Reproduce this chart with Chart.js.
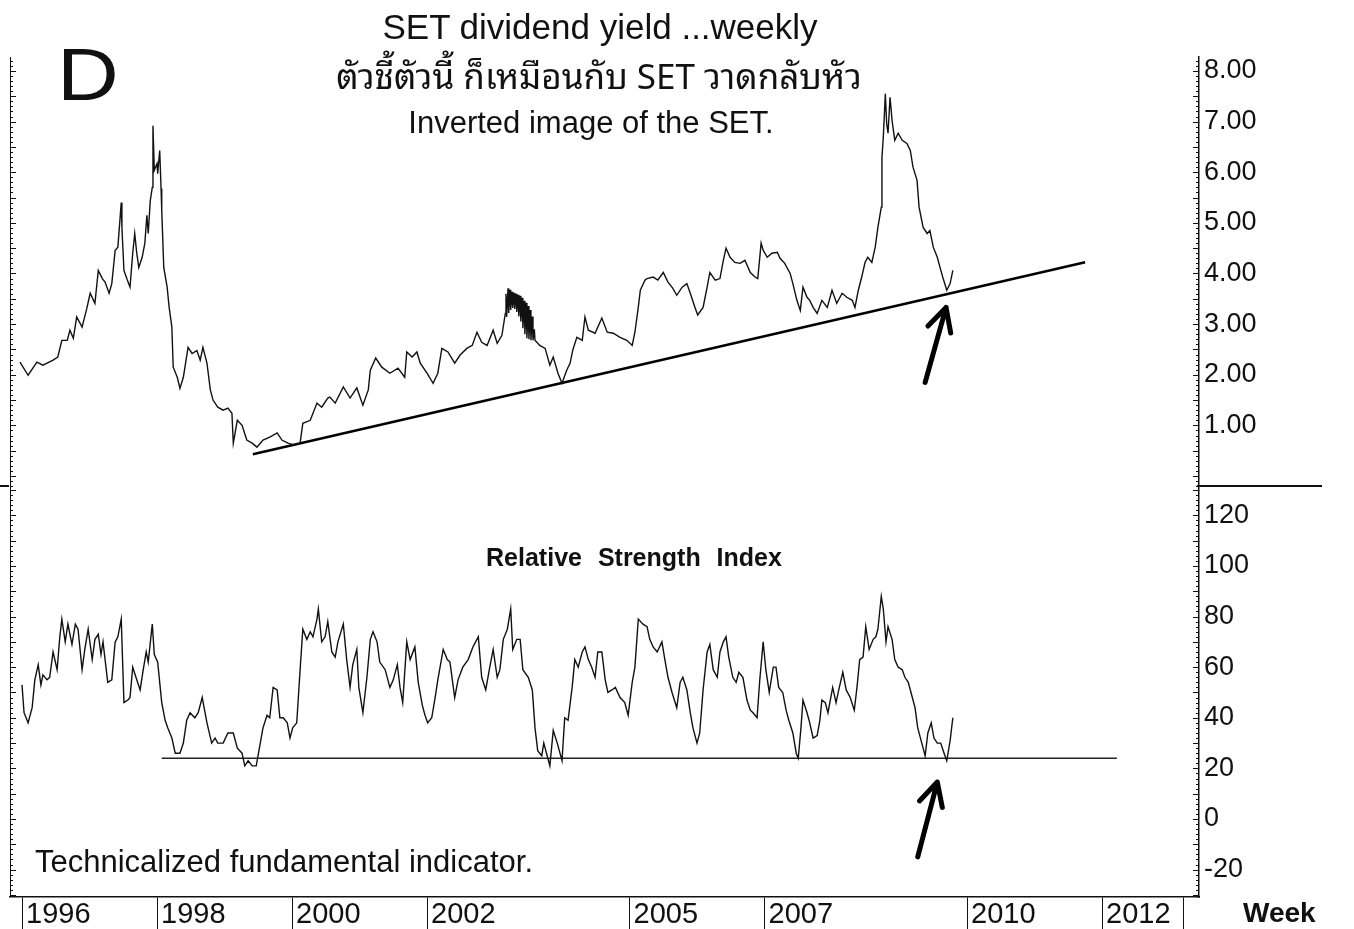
<!DOCTYPE html>
<html>
<head>
<meta charset="utf-8">
<title>SET dividend yield weekly</title>
<script src="https://cdn.jsdelivr.net/npm/chart.js@4.4.0/dist/chart.umd.min.js"></script>
<style>
  html, body { margin: 0; padding: 0; background: #fff; }
  #page { position: relative; width: 1354px; height: 929px; overflow: hidden; font-family: "Liberation Sans", Arial, sans-serif; color: #111; }
  canvas { position: absolute; left: 0; }
  #yieldCanvas { top: 0; }
  #rsiCanvas { top: 487px; }
  .txt { position: absolute; white-space: nowrap; line-height: 1; }
  .center { width: 800px; text-align: center; }
  .rule { position: absolute; background: #111; }
</style>
</head>
<body>
<div id="page">
  <canvas id="yieldCanvas" width="1354" height="487"></canvas>
  <canvas id="rsiCanvas" width="1354" height="442"></canvas>

  <div class="txt" style="left:57px; top:37px; font-size:75px; transform:scaleX(1.14); transform-origin:left top;">D</div>
  <div class="txt center" style="left:200px; top:9px; font-size:35px;">SET dividend yield ...weekly</div>
  <div class="txt center" style="left:199px; top:56px; font-size:35px; font-family:'Noto Sans Thai Looped','Noto Serif Thai','Garuda','Loma','Norasi','Kinnari','Waree','Noto Sans Thai','DejaVu Sans',sans-serif;">ตัวชี้ตัวนี้ ก็เหมือนกับ SET วาดกลับหัว</div>
  <div class="txt center" style="left:191px; top:107px; font-size:31px;">Inverted image of the SET.</div>
  <div class="txt center" style="left:234px; top:545px; font-size:25px; font-weight:bold; word-spacing:9px;">Relative Strength Index</div>
  <div class="txt" style="left:35px; top:846px; font-size:31px;">Technicalized fundamental indicator.</div>
  <div class="txt" style="left:1243px; top:899px; font-size:28px; font-weight:bold;">Week</div>

  <div class="rule" style="left:1197px; top:485px; width:125px; height:2px;"></div>
  <div class="rule" style="left:0px; top:485px; width:9px; height:2px;"></div>
</div>

<script>
// ---- data (decimal year, value) ----
const yieldSeries = [
  [1995.97,2.25],[1996.09,1.99],[1996.22,2.25],[1996.31,2.19],[1996.46,2.29],[1996.53,2.35],[1996.59,2.68],[1996.67,2.68],[1996.71,2.88],[1996.76,2.72],
  [1996.81,3.14],[1996.89,2.94],[1996.96,3.31],[1997.01,3.61],[1997.08,3.41],[1997.13,4.06],[1997.19,3.90],[1997.23,3.83],[1997.29,3.61],[1997.33,3.80],
  [1997.38,4.46],[1997.42,4.52],[1997.47,5.40],[1997.48,4.91],[1997.51,4.06],[1997.56,3.87],[1997.60,3.73],[1997.64,4.40],[1997.67,4.79],[1997.70,4.40],
  [1997.73,4.12],[1997.78,4.32],[1997.82,4.60],[1997.85,5.15],[1997.87,4.79],[1997.90,5.44],[1997.93,5.70],[1997.94,6.92],[1997.96,6.04],[1998.00,6.17],
  [1998.01,5.97],[1998.04,6.43],[1998.06,5.68],[1998.07,5.25],[1998.10,4.12],[1998.15,3.73],[1998.18,3.33],[1998.22,2.94],[1998.24,2.15],[1998.30,1.95],
  [1998.34,1.73],[1998.39,1.95],[1998.46,2.54],[1998.52,2.42],[1998.59,2.48],[1998.64,2.29],[1998.68,2.54],[1998.74,2.23],[1998.79,1.70],[1998.83,1.50],
  [1998.90,1.36],[1998.98,1.30],[1999.05,1.34],[1999.11,1.24],[1999.13,0.65],[1999.19,1.10],[1999.26,1.00],[1999.33,0.71],[1999.41,0.65],[1999.48,0.57],
  [1999.57,0.71],[1999.67,0.77],[1999.78,0.85],[1999.85,0.71],[1999.94,0.65],[2000.04,0.61],[2000.12,0.65],[2000.16,1.04],[2000.27,1.10],[2000.37,1.44],
  [2000.44,1.36],[2000.53,1.54],[2000.56,1.56],[2000.64,1.44],[2000.76,1.76],[2000.86,1.54],[2000.96,1.74],[2001.05,1.40],[2001.13,1.70],[2001.16,2.09],
  [2001.24,2.33],[2001.33,2.15],[2001.45,2.03],[2001.57,2.13],[2001.67,1.95],[2001.70,2.45],[2001.78,2.35],[2001.85,2.45],[2001.90,2.23],[2002.00,2.03],
  [2002.09,1.83],[2002.16,2.03],[2002.22,2.52],[2002.31,2.45],[2002.41,2.23],[2002.49,2.39],[2002.59,2.52],[2002.67,2.58],[2002.74,2.84],[2002.81,2.64],
  [2002.89,2.58],[2002.98,2.88],[2003.04,2.62],[2003.11,2.78],[2003.16,3.21],
  // 2003 swings are so wide week to week that the trace looks solid
  [2003.17,3.60],[2003.18,3.14],[2003.20,3.71],[2003.21,3.22],[2003.23,3.68],[2003.24,3.28],[2003.26,3.64],[2003.27,3.32],[2003.29,3.62],[2003.30,3.30],
  [2003.32,3.60],[2003.33,3.24],[2003.35,3.58],[2003.36,3.15],[2003.38,3.56],[2003.39,3.05],[2003.41,3.52],[2003.42,2.92],[2003.44,3.46],[2003.45,2.80],
  [2003.47,3.42],[2003.48,2.72],[2003.50,3.36],[2003.51,2.70],[2003.53,3.28],[2003.54,2.68],[2003.56,3.15],[2003.57,2.68],[2003.59,2.90],[2003.60,2.68],
  [2003.67,2.58],[2003.75,2.52],[2003.82,2.19],[2003.87,2.35],[2003.94,2.03],[2004.00,1.83],[2004.07,2.09],[2004.12,2.23],[2004.16,2.49],[2004.22,2.74],
  [2004.30,2.68],[2004.34,3.14],[2004.39,2.88],[2004.49,2.82],[2004.59,3.12],[2004.67,2.84],[2004.76,2.82],[2004.86,2.74],[2004.96,2.68],[2005.04,2.58],
  [2005.08,2.84],[2005.13,3.33],[2005.16,3.67],[2005.23,3.87],[2005.26,3.90],[2005.35,3.93],[2005.42,3.87],[2005.50,4.02],[2005.57,3.83],[2005.64,3.71],
  [2005.70,3.57],[2005.78,3.73],[2005.85,3.80],[2005.90,3.61],[2005.97,3.33],[2006.01,3.18],[2006.09,3.33],[2006.15,3.73],[2006.19,4.02],[2006.27,3.87],
  [2006.34,3.90],[2006.39,4.26],[2006.43,4.50],[2006.49,4.32],[2006.56,4.22],[2006.64,4.20],[2006.71,4.26],[2006.79,4.02],[2006.86,3.93],[2006.90,3.90],
  [2006.95,4.60],[2006.98,4.46],[2007.04,4.32],[2007.11,4.40],[2007.19,4.42],[2007.23,4.30],[2007.30,4.20],[2007.38,4.00],[2007.42,3.80],[2007.48,3.47],
  [2007.53,3.27],[2007.57,3.73],[2007.63,3.53],[2007.67,3.47],[2007.72,3.33],[2007.78,3.21],[2007.85,3.47],[2007.93,3.33],[2008.00,3.67],[2008.07,3.41],
  [2008.15,3.61],[2008.22,3.53],[2008.30,3.47],[2008.34,3.33],[2008.39,3.67],[2008.44,3.93],[2008.49,4.22],[2008.53,4.32],[2008.59,4.22],[2008.64,4.52],
  [2008.68,4.91],[2008.73,5.31],[2008.74,6.29],[2008.76,6.69],[2008.79,7.55],[2008.81,6.96],[2008.83,6.77],[2008.86,7.48],[2008.89,7.02],[2008.93,6.63],
  [2008.98,6.77],[2009.04,6.63],[2009.11,6.57],[2009.16,6.43],[2009.20,6.10],[2009.26,5.84],[2009.29,5.31],[2009.35,4.91],[2009.41,4.79],[2009.45,4.85],
  [2009.50,4.52],[2009.56,4.32],[2009.60,4.12],[2009.64,3.93],[2009.70,3.67],[2009.75,3.80],[2009.79,4.06]
];

const rsiSeries = [
  [1996.00,53],[1996.03,42],[1996.09,38],[1996.15,44],[1996.19,55],[1996.24,61],[1996.28,53],[1996.31,57],[1996.37,55],[1996.41,56],
  [1996.46,66],[1996.52,59],[1996.56,72],[1996.59,79],[1996.64,70],[1996.68,77],[1996.74,69],[1996.79,77],[1996.83,75],[1996.89,59],
  [1996.93,67],[1996.98,75],[1997.04,63],[1997.08,71],[1997.13,73],[1997.17,65],[1997.20,70],[1997.27,54],[1997.33,55],[1997.38,70],
  [1997.42,72],[1997.47,79],[1997.51,46],[1997.57,47],[1997.60,48],[1997.64,60],[1997.70,55],[1997.75,51],[1997.79,58],[1997.84,66],
  [1997.87,62],[1997.93,77],[1997.96,65],[1998.01,62],[1998.07,46],[1998.12,39],[1998.16,36],[1998.22,32],[1998.27,26],[1998.34,26],
  [1998.39,30],[1998.44,39],[1998.49,42],[1998.56,40],[1998.61,42],[1998.67,48],[1998.74,38],[1998.81,30],[1998.86,32],[1998.90,30],
  [1998.98,30],[1999.05,34],[1999.13,34],[1999.19,28],[1999.26,26],[1999.30,21],[1999.35,23],[1999.41,21],[1999.47,21],[1999.51,27],
  [1999.57,36],[1999.63,41],[1999.67,40],[1999.72,52],[1999.78,51],[1999.82,40],[1999.87,40],[1999.93,38],[1999.97,32],[2000.01,36],
  [2000.07,38],[2000.12,59],[2000.16,75],[2000.22,71],[2000.27,74],[2000.31,72],[2000.37,79],[2000.39,83],[2000.44,70],[2000.49,72],
  [2000.53,78],[2000.59,66],[2000.64,64],[2000.68,70],[2000.76,77],[2000.81,63],[2000.86,52],[2000.90,61],[2000.96,67],[2000.99,52],
  [2001.05,42],[2001.11,56],[2001.16,71],[2001.20,74],[2001.26,70],[2001.30,62],[2001.38,59],[2001.45,52],[2001.50,55],[2001.56,61],
  [2001.60,52],[2001.64,46],[2001.70,70],[2001.75,63],[2001.82,68],[2001.87,54],[2001.93,45],[2001.97,41],[2002.01,38],[2002.07,40],
  [2002.12,48],[2002.16,55],[2002.24,67],[2002.30,63],[2002.34,62],[2002.41,48],[2002.46,55],[2002.53,60],[2002.61,63],[2002.68,68],
  [2002.76,72],[2002.81,56],[2002.87,51],[2002.93,60],[2002.98,67],[2003.04,56],[2003.08,59],[2003.13,71],[2003.19,75],[2003.24,83],
  [2003.27,67],[2003.33,71],[2003.38,71],[2003.42,59],[2003.50,56],[2003.56,51],[2003.60,36],[2003.64,27],[2003.70,25],[2003.73,30],
  [2003.78,25],[2003.82,21],[2003.87,35],[2003.93,30],[2004.00,23],[2004.04,40],[2004.09,39],[2004.15,52],[2004.19,63],[2004.24,60],
  [2004.30,66],[2004.34,68],[2004.39,63],[2004.44,60],[2004.49,56],[2004.53,66],[2004.59,66],[2004.64,55],[2004.68,50],[2004.74,51],
  [2004.79,52],[2004.86,48],[2004.93,46],[2004.98,41],[2005.04,54],[2005.08,60],[2005.13,79],[2005.20,77],[2005.26,76],[2005.30,71],
  [2005.35,68],[2005.41,66],[2005.48,70],[2005.53,62],[2005.57,56],[2005.63,50],[2005.70,44],[2005.75,54],[2005.79,56],[2005.85,51],
  [2005.90,42],[2005.94,36],[2006.00,30],[2006.04,34],[2006.09,51],[2006.15,66],[2006.19,69],[2006.24,59],[2006.30,56],[2006.34,66],
  [2006.39,70],[2006.43,72],[2006.47,64],[2006.53,56],[2006.58,54],[2006.62,58],[2006.68,56],[2006.74,47],[2006.79,43],[2006.83,42],
  [2006.89,40],[2006.93,55],[2006.98,70],[2007.02,59],[2007.07,50],[2007.13,60],[2007.17,60],[2007.21,52],[2007.27,50],[2007.32,43],
  [2007.36,39],[2007.42,34],[2007.47,26],[2007.50,24],[2007.54,36],[2007.57,47],[2007.63,42],[2007.67,38],[2007.72,32],[2007.78,33],
  [2007.82,39],[2007.85,47],[2007.90,46],[2007.94,42],[2008.01,52],[2008.06,46],[2008.10,51],[2008.16,58],[2008.21,51],[2008.27,48],
  [2008.33,43],[2008.37,52],[2008.41,63],[2008.46,64],[2008.50,76],[2008.55,67],[2008.61,71],[2008.65,72],[2008.68,75],[2008.73,88],
  [2008.76,83],[2008.80,70],[2008.83,76],[2008.89,71],[2008.93,63],[2008.98,60],[2009.04,59],[2009.08,56],[2009.13,54],[2009.19,48],
  [2009.23,44],[2009.27,36],[2009.33,30],[2009.38,25],[2009.42,34],[2009.47,38],[2009.51,32],[2009.56,30],[2009.61,30],[2009.66,26],
  [2009.70,23],[2009.75,31],[2009.79,40]
];

// hand drawn support lines
const yieldTrend = [[1999.42,0.43],[2011.75,4.22]];
const rsiFloor = [[1998.07,24],[2012.22,24]];

// arrows: [tail, tip] in data units
const yieldArrow = [[2009.38,1.85],[2009.69,3.33]];
const rsiArrow = [[2009.27,-15],[2009.56,14.6]];

// axes
const xTickYears = [1996, 1998, 2000, 2002, 2005, 2007, 2010, 2012];
const xEndMark = 2013.2;
const yieldTicks = [1, 2, 3, 4, 5, 6, 7, 8];
const rsiTicks = [-20, 0, 20, 40, 60, 80, 100, 120];
const xMin = 1995.822, xMax = 2013.437;

const FONT = '"Liberation Sans", Arial, sans-serif';
const INK = '#111';

const toXY = arr => arr.map(p => ({ x: p[0], y: p[1] }));

// inward minor/major ticks on both vertical frame lines, plus the left frame line
const frameTicks = {
    id: 'frameTicks',
    afterDraw(chart, args, opts) {
        const { ctx, chartArea: a } = chart;
        const ys = chart.scales.y;
        ctx.save();
        ctx.strokeStyle = INK;
        ctx.lineWidth = 1;
        ctx.beginPath();
        ctx.moveTo(a.left + 0.5, a.top);
        ctx.lineTo(a.left + 0.5, a.bottom);
        ctx.stroke();
        const first = Math.ceil(ys.min / opts.minor);
        const last = Math.floor(ys.max / opts.minor);
        for (let i = first; i <= last; i++) {
            const v = i * opts.minor;
            const py = Math.round(ys.getPixelForValue(v)) + 0.5;
            const major = Math.abs(v / opts.major - Math.round(v / opts.major)) < 1e-6;
            const len = major ? 6 : 3;
            ctx.beginPath();
            ctx.moveTo(a.left, py); ctx.lineTo(a.left + len, py);
            ctx.moveTo(a.right, py); ctx.lineTo(a.right - len, py);
            ctx.stroke();
        }
        ctx.restore();
    }
};

// thick hand drawn style arrow pointing at the low
const arrowMark = {
    id: 'arrowMark',
    afterDatasetsDraw(chart, args, opts) {
        const { ctx, scales } = chart;
        const [tail, tip] = opts.points;
        const x0 = scales.x.getPixelForValue(tail[0]), y0 = scales.y.getPixelForValue(tail[1]);
        const x1 = scales.x.getPixelForValue(tip[0]), y1 = scales.y.getPixelForValue(tip[1]);
        const ang = Math.atan2(y1 - y0, x1 - x0);
        const head = 26;
        ctx.save();
        ctx.strokeStyle = '#000';
        ctx.lineWidth = 5;
        ctx.lineCap = 'round';
        ctx.lineJoin = 'round';
        ctx.beginPath();
        ctx.moveTo(x0, y0); ctx.lineTo(x1, y1);
        ctx.moveTo(x1 + head * Math.cos(ang + Math.PI - 0.45), y1 + head * Math.sin(ang + Math.PI - 0.45));
        ctx.lineTo(x1, y1);
        ctx.lineTo(x1 + head * Math.cos(ang + Math.PI + 0.5), y1 + head * Math.sin(ang + Math.PI + 0.5));
        ctx.stroke();
        ctx.restore();
    }
};

function xScale(showLabels) {
    const s = {
        type: 'linear',
        min: xMin,
        max: xMax,
        display: showLabels,
        afterBuildTicks: sc => { sc.ticks = xTickYears.concat([xEndMark]).map(v => ({ value: v })); },
        grid: { drawOnChartArea: false, drawTicks: true, tickLength: 32, tickColor: INK, tickWidth: 1 },
        border: { display: true, color: INK, width: 1.5 },
        ticks: {
            align: 'start',
            labelOffset: 4,
            padding: -31,
            autoSkip: false,
            maxRotation: 0,
            color: INK,
            font: { family: FONT, size: 29 },
            callback: v => xTickYears.includes(v) ? String(v) : ''
        }
    };
    if (showLabels) {
        s.afterFit = sc => { sc.height = 32; sc.paddingLeft = 0; sc.paddingRight = 0; };
    }
    return s;
}

function yScale(min, max, tickValues, fmt) {
    return {
        position: 'right',
        min: min,
        max: max,
        afterBuildTicks: s => { s.ticks = tickValues.map(v => ({ value: v })); },
        afterFit: s => { s.width = 155; s.paddingTop = 0; s.paddingBottom = 0; },
        grid: { drawOnChartArea: false, drawTicks: false },
        border: { display: true, color: INK, width: 1.5 },
        ticks: { padding: 5, color: INK, font: { family: FONT, size: 27 }, callback: fmt }
    };
}

const baseOptions = {
    responsive: false,
    animation: false,
    events: [],
    plugins: { legend: { display: false }, tooltip: { enabled: false } },
    elements: { point: { radius: 0 }, line: { tension: 0 } }
};

new Chart(document.getElementById('yieldCanvas'), {
    type: 'line',
    data: {
        datasets: [
            { data: toXY(yieldSeries), borderColor: INK, borderWidth: 1.4 },
            { data: toXY(yieldTrend), borderColor: '#000', borderWidth: 2.6 }
        ]
    },
    options: {
        ...baseOptions,
        layout: { padding: { top: 57, left: 10 } },
        scales: {
            x: xScale(false),
            y: yScale(-0.217, 8.276, yieldTicks, v => v.toFixed(2))
        },
        plugins: {
            ...baseOptions.plugins,
            frameTicks: { minor: 0.1, major: 0.5 },
            arrowMark: { points: yieldArrow }
        }
    },
    plugins: [frameTicks, arrowMark]
});

new Chart(document.getElementById('rsiCanvas'), {
    type: 'line',
    data: {
        datasets: [
            { data: toXY(rsiSeries), borderColor: INK, borderWidth: 1.4 },
            { data: toXY(rsiFloor), borderColor: '#222', borderWidth: 1.6 }
        ]
    },
    options: {
        ...baseOptions,
        layout: { padding: { left: 10 } },
        scales: {
            x: xScale(true),
            y: yScale(-30.83, 131.2, rsiTicks, v => String(v))
        },
        plugins: {
            ...baseOptions.plugins,
            frameTicks: { minor: 2, major: 10 },
            arrowMark: { points: rsiArrow }
        }
    },
    plugins: [frameTicks, arrowMark]
});
</script>
</body>
</html>
